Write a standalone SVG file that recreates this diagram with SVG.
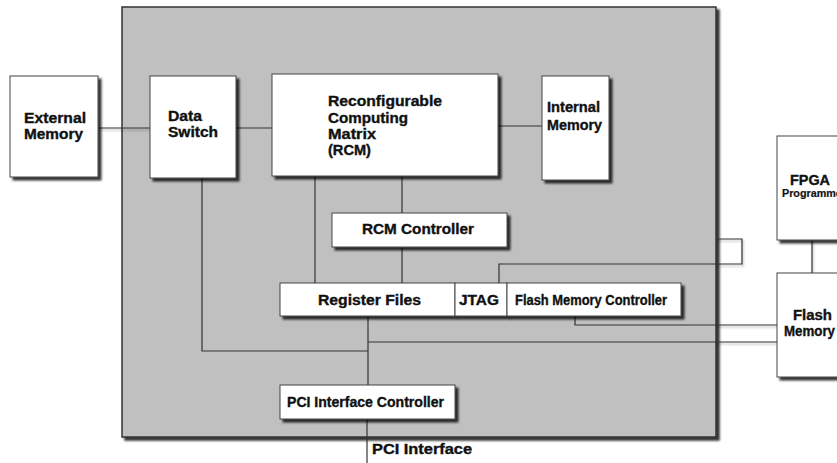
<svg xmlns="http://www.w3.org/2000/svg" width="837" height="463" viewBox="0 0 837 463">
  <defs>
    <filter id="shadow" x="-10%" y="-10%" width="130%" height="130%">
      <feDropShadow dx="3" dy="3" stdDeviation="1.2" flood-color="#000" flood-opacity="0.8"/>
    </filter>
    <filter id="lineShadow" x="-5%" y="-50%" width="110%" height="300%">
      <feDropShadow dx="1" dy="2" stdDeviation="1" flood-color="#000" flood-opacity="0.3"/>
    </filter>
  </defs>
  <style>
    .board { fill: #c0c0c0; stroke: #333; stroke-width: 1.5; }
    .box { fill: #fff; stroke: #444; stroke-width: 1; }
    .lbl { font-family: "Liberation Sans", Arial, sans-serif; font-weight: bold; font-size: 14px; fill: #111; stroke: #111; stroke-width: 0.35; }
    .small { font-size: 10.5px; stroke-width: 0.2; }
    .wire { fill: none; stroke: #333; stroke-width: 1.2; }
  </style>

  <rect width="837" height="463" fill="#fff"/>

  <!-- main board -->
  <rect class="board" x="122" y="7" width="594" height="430" filter="url(#shadow)"/>

  <!-- connectors -->
  <g id="connectors">
    <g filter="url(#lineShadow)">
      <path class="wire" d="M98,128 H150"/>
      <path class="wire" d="M716,239 H742 V264 H716"/>
      <path class="wire" d="M716,325 H777"/>
      <path class="wire" d="M716,342 H777"/>
      <path class="wire" d="M812,240 V273"/>
    </g>
    <path class="wire" d="M236,128 H272"/>
    <path class="wire" d="M498,126 H542"/>
    <path class="wire" d="M315,176 V283"/>
    <path class="wire" d="M402,176 V213"/>
    <path class="wire" d="M402,247 V283"/>
    <path class="wire" d="M499,283 V264 H716"/>
    <path class="wire" d="M575,316 V325 H716"/>
    <path class="wire" d="M368,316 V385"/>
    <path class="wire" d="M368,342 H716"/>
    <path class="wire" d="M202,178 V351 H368"/>
    <path class="wire" d="M367,419 V463"/>
  </g>

  <g id="external-memory">
    <rect class="box" x="10" y="76" width="88" height="101" filter="url(#shadow)"/>
    <text class="lbl" x="24" y="123" textLength="62" lengthAdjust="spacingAndGlyphs">External</text>
    <text class="lbl" x="24" y="139" textLength="59" lengthAdjust="spacingAndGlyphs">Memory</text>
  </g>

  <g id="data-switch">
    <rect class="box" x="150" y="76" width="86" height="102" filter="url(#shadow)"/>
    <text class="lbl" x="168" y="121" textLength="34" lengthAdjust="spacingAndGlyphs">Data</text>
    <text class="lbl" x="168" y="137" textLength="50" lengthAdjust="spacingAndGlyphs">Switch</text>
  </g>

  <g id="rcm">
    <rect class="box" x="272" y="74" width="226" height="102" filter="url(#shadow)"/>
    <text class="lbl" x="328" y="106" textLength="114" lengthAdjust="spacingAndGlyphs">Reconfigurable</text>
    <text class="lbl" x="328" y="123" textLength="80" lengthAdjust="spacingAndGlyphs">Computing</text>
    <text class="lbl" x="328" y="139" textLength="48" lengthAdjust="spacingAndGlyphs">Matrix</text>
    <text class="lbl" x="328" y="155" textLength="43" lengthAdjust="spacingAndGlyphs">(RCM)</text>
  </g>

  <g id="internal-memory">
    <rect class="box" x="542" y="76" width="67" height="104" filter="url(#shadow)"/>
    <text class="lbl" x="547" y="112" textLength="53" lengthAdjust="spacingAndGlyphs">Internal</text>
    <text class="lbl" x="547" y="130" textLength="55" lengthAdjust="spacingAndGlyphs">Memory</text>
  </g>

  <g id="rcm-controller">
    <rect class="box" x="332" y="213" width="175" height="34" filter="url(#shadow)"/>
    <text class="lbl" x="362" y="234" textLength="112" lengthAdjust="spacingAndGlyphs">RCM Controller</text>
  </g>

  <g id="register-files">
    <rect class="box" x="280" y="283" width="175" height="33" filter="url(#shadow)"/>
    <text class="lbl" x="318" y="305" textLength="103" lengthAdjust="spacingAndGlyphs">Register Files</text>
  </g>

  <g id="jtag">
    <rect class="box" x="455" y="283" width="52" height="33" filter="url(#shadow)"/>
    <text class="lbl" x="459" y="305" textLength="40" lengthAdjust="spacingAndGlyphs">JTAG</text>
  </g>

  <g id="flash-memory-controller">
    <rect class="box" x="507" y="283" width="174" height="33" filter="url(#shadow)"/>
    <text class="lbl" x="515" y="305" textLength="152" lengthAdjust="spacingAndGlyphs">Flash Memory Controller</text>
  </g>

  <g id="pci-interface-controller">
    <rect class="box" x="280" y="385" width="175" height="34" filter="url(#shadow)"/>
    <text class="lbl" x="287" y="407" textLength="157" lengthAdjust="spacingAndGlyphs">PCI Interface Controller</text>
  </g>

  <g id="pci-interface">
    <text class="lbl" x="372" y="454" textLength="100" lengthAdjust="spacingAndGlyphs">PCI Interface</text>
  </g>

  <g id="fpga-programmer">
    <rect class="box" x="777" y="136" width="80" height="104" filter="url(#shadow)"/>
    <text class="lbl" x="790" y="185" textLength="40" lengthAdjust="spacingAndGlyphs">FPGA</text>
    <text class="lbl small" x="782" y="197" textLength="64" lengthAdjust="spacingAndGlyphs">Programmer</text>
  </g>

  <g id="flash-memory">
    <rect class="box" x="777" y="273" width="80" height="104" filter="url(#shadow)"/>
    <text class="lbl" x="793" y="320" textLength="39" lengthAdjust="spacingAndGlyphs">Flash</text>
    <text class="lbl" x="784" y="336" textLength="51" lengthAdjust="spacingAndGlyphs">Memory</text>
  </g>
</svg>
